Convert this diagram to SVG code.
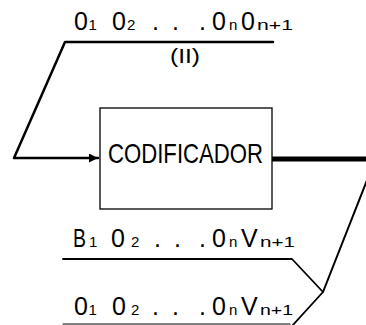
<svg xmlns="http://www.w3.org/2000/svg" width="366" height="325" viewBox="0 0 366 325">
<style>
.ln{fill:none;stroke:#000;stroke-linecap:round;stroke-linejoin:round}
.t{font-family:"Liberation Sans",Arial,sans-serif;fill:#000}
.big{font-size:25px}
.sub{font-size:15px}
</style>
<defs>
<marker id="ah" viewBox="0 0 10 10" refX="10" refY="5" markerWidth="5" markerHeight="3.6" orient="auto" markerUnits="strokeWidth">
<path d="M0,0 L10,5 L0,10 z" fill="#000"/>
</marker>
</defs>
<rect width="366" height="325" fill="#fff"/>
<g id="connectors">
<path class="ln" d="M273,42 H65 L14,158 H98" stroke-width="2.5" marker-end="url(#ah)"/>
<path class="ln" d="M272,159 H370" stroke-width="5" stroke-linecap="butt"/>
<path class="ln" d="M375,160 L323,292" stroke-width="2"/>
<path class="ln" d="M63,259 H292 L323,292 L292,326" stroke-width="1.8"/>
<path class="ln" d="M63,324 H290" stroke-width="1.2"/>
</g>
<g id="encoder">
<rect x="100" y="108" width="172" height="101" fill="#fff" stroke="#000" stroke-width="1.3"/>
<text class="t" x="108" y="163" font-size="28" textLength="155" lengthAdjust="spacingAndGlyphs">CODIFICADOR</text>
</g>
<g id="label-top">
<text class="t big" y="30"><tspan x="74">0</tspan><tspan class="sub" x="88.5">1</tspan><tspan x="112">0</tspan><tspan class="sub" x="127">2</tspan><tspan x="152">.</tspan><tspan x="172">.</tspan><tspan x="199">.</tspan><tspan x="212">0</tspan><tspan class="sub" x="229">n</tspan><tspan x="241">0</tspan></text>
<text class="t sub" x="257" y="30" textLength="36" lengthAdjust="spacingAndGlyphs">n+1</text>
<text class="t" x="170" y="63" font-size="20" textLength="30" lengthAdjust="spacingAndGlyphs">(II)</text>
</g>
<g id="label-middle">
<text class="t big" y="247"><tspan x="73" textLength="13" lengthAdjust="spacingAndGlyphs">B</tspan></text>
<text class="t big" y="247"><tspan class="sub" x="89">1</tspan><tspan x="111">0</tspan><tspan class="sub" x="131">2</tspan><tspan x="154">.</tspan><tspan x="174">.</tspan><tspan x="199">.</tspan><tspan x="212">0</tspan><tspan class="sub" x="229">n</tspan><tspan x="241">V</tspan></text>
<text class="t sub" x="260" y="247" textLength="35" lengthAdjust="spacingAndGlyphs">n+1</text>
</g>
<g id="label-bottom">
<text class="t big" y="315"><tspan x="74">0</tspan><tspan class="sub" x="88.5">1</tspan><tspan x="112">0</tspan><tspan class="sub" x="131">2</tspan><tspan x="152">.</tspan><tspan x="172">.</tspan><tspan x="199">.</tspan><tspan x="212">0</tspan><tspan class="sub" x="229">n</tspan><tspan x="241">V</tspan></text>
<text class="t sub" x="260" y="315" textLength="33" lengthAdjust="spacingAndGlyphs">n+1</text>
</g>
</svg>
